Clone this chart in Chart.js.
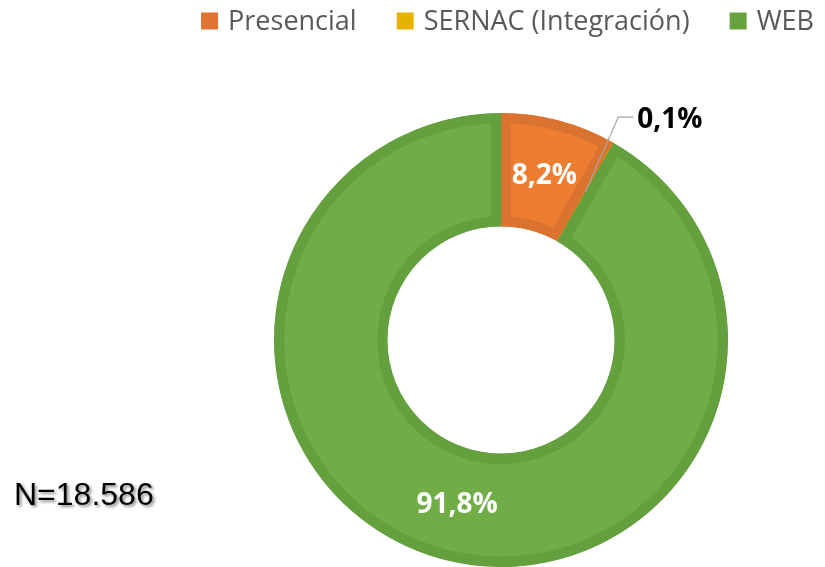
<!DOCTYPE html>
<html>
<head>
<meta charset="utf-8">
<script src="https://cdn.jsdelivr.net/npm/chart.js@4/dist/chart.umd.min.js"></script>
<style>
    html, body { margin: 0; padding: 0; background: #fff; }
    #wrap { width: 825px; height: 567px; position: relative; }
</style>
</head>
<body>
<div id="wrap"><canvas id="chart"></canvas></div>
<script>
var categories = ['Presencial', 'SERNAC (Integración)', 'WEB'];
var shares = [8.2, 0.1, 91.8];
var fillColors = ['#ED7D31', '#FFC000', '#70AD47'];
var edgeColors = ['#DB7330', '#C9861C', '#64A03E'];
var keyColors = ['#E07331', '#E8B300', '#66A33F'];
var sampleText = 'N=18.586';

var fmt = function(v){
    return v.toFixed(1).replace('.', ',') + '%';
};

// legend drawn by hand so the ring can sit off-centre
var topLegend = {
    id: 'topLegend',
    afterDraw: function(chart){
        var ctx = chart.ctx;
        ctx.save();
        ctx.font = "27px 'Open Sans'";
        ctx.textBaseline = 'middle';
        var box = 17, gapText = 10, gapItem = 40;
        var widths = categories.map(function(c){ return ctx.measureText(c).width; });
        var total = 0;
        widths.forEach(function(w, i){ total += box + gapText + w + (i < widths.length - 1 ? gapItem : 0); });
        var x = 814 - total;
        var y = 21;
        categories.forEach(function(c, i){
            ctx.fillStyle = keyColors[i];
            ctx.fillRect(x, y - box / 2, box, box);
            ctx.fillStyle = '#595959';
            ctx.fillText(c, x + box + gapText, y + 1);
            x += box + gapText + widths[i] + gapItem;
        });
        ctx.restore();
    }
};

var sliceLabels = {
    id: 'sliceLabels',
    afterDatasetsDraw: function(chart){
        var ctx = chart.ctx;
        var meta = chart.getDatasetMeta(0);
        ctx.save();
        ctx.font = "bold 28px 'Open Sans'";
        meta.data.forEach(function(arc, i){
            var v = shares[i];
            var p = arc.tooltipPosition();
            if (v >= 1) {
                ctx.fillStyle = '#ffffff';
                ctx.textAlign = 'center';
                ctx.textBaseline = 'middle';
                ctx.fillText(fmt(v), p.x, p.y + 1);
            } else {
                // leader line for the tiny slice
                ctx.strokeStyle = '#A6A6A6';
                ctx.lineWidth = 1.2;
                ctx.beginPath();
                ctx.moveTo(p.x, p.y);
                ctx.lineTo(p.x + 33, p.y - 75);
                ctx.lineTo(p.x + 48, p.y - 75);
                ctx.stroke();
                ctx.fillStyle = '#000000';
                ctx.textAlign = 'left';
                ctx.textBaseline = 'middle';
                ctx.fillText(fmt(v), p.x + 52, p.y - 72);
            }
        });
        ctx.restore();
    }
};

var sampleNote = {
    id: 'sampleNote',
    afterDraw: function(chart){
        var ctx = chart.ctx;
        ctx.save();
        ctx.font = "32px 'Liberation Sans', Arial";
        ctx.textAlign = 'left';
        ctx.textBaseline = 'alphabetic';
        ctx.shadowColor = 'rgba(0,0,0,0.45)';
        ctx.shadowOffsetX = 2;
        ctx.shadowOffsetY = 2;
        ctx.shadowBlur = 3;
        ctx.fillStyle = '#000000';
        ctx.fillText(sampleText, 14, 505);
        ctx.restore();
    }
};

var chartData = {
    labels: categories,
    datasets: [
        {
            data: shares,
            backgroundColor: fillColors,
            borderColor: edgeColors,
            borderWidth: 10,
            borderAlign: 'inner',
            hoverBorderWidth: 10
        }
    ]
};

var chartOptions = {
    responsive: true,
    maintainAspectRatio: false,
    animation: false,
    cutout: '50%',
    layout: {
        padding: { left: 274, right: 97, top: 113, bottom: 0 }
    },
    plugins: {
        legend: { display: false },
        tooltip: { enabled: false }
    }
};

new Chart(document.getElementById('chart').getContext('2d'), {
    type: 'doughnut',
    data: chartData,
    options: chartOptions,
    plugins: [topLegend, sliceLabels, sampleNote]
});
</script>
</body>
</html>
